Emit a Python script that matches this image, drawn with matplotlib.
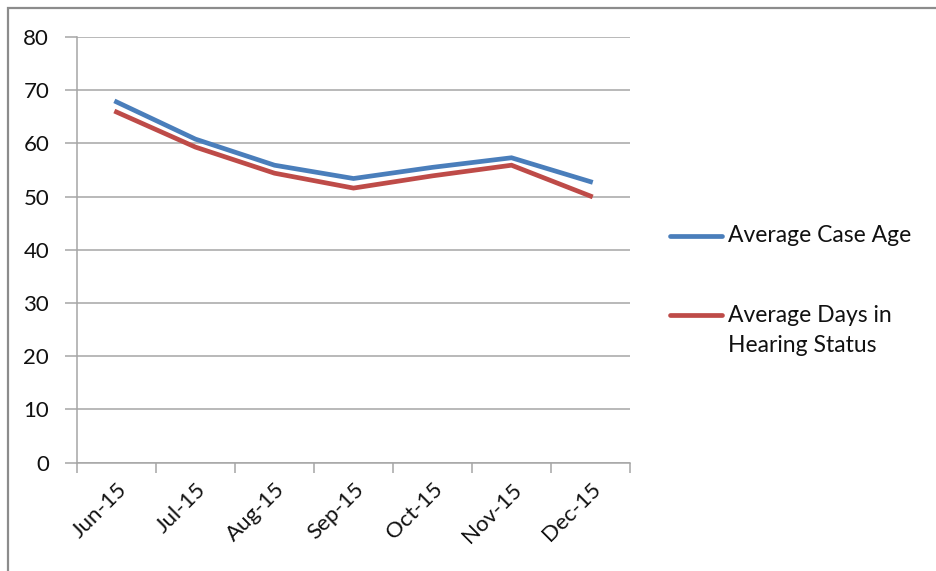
import matplotlib
matplotlib.use('Agg')
import matplotlib.pyplot as plt
from matplotlib.lines import Line2D
from matplotlib.patches import Rectangle

months = ['Jun-15', 'Jul-15', 'Aug-15', 'Sep-15', 'Oct-15', 'Nov-15', 'Dec-15']
case_age = [67.8, 60.8, 55.9, 53.4, 55.5, 57.3, 52.8]
hearing_days = [65.9, 59.3, 54.4, 51.6, 53.9, 55.9, 50.1]

blue = '#4A7EBB'
red = '#BE4B48'
grid_gray = '#A6A6A6'

plt.rcParams['font.family'] = ['Lato', 'DejaVu Sans']

fig = plt.figure(figsize=(9.36, 5.71), dpi=100)
W, H = 936, 571
ax = fig.add_axes([77 / W, 1 - 462.6 / H, (630 - 77) / W, (462.6 - 37) / H])

x = list(range(len(months)))
ax.plot(x, case_age, color=blue, lw=3.4, solid_joinstyle='miter')
ax.plot(x, hearing_days, color=red, lw=3.4, solid_joinstyle='miter')

ax.set_xlim(-0.5, len(months) - 0.5)
ax.set_ylim(0, 80)
ax.set_yticks(range(0, 81, 10))
ax.yaxis.grid(True, color=grid_gray, lw=1.1)
ax.set_axisbelow(True)

# category labels sit between the boundary tick marks
ax.set_xticks(x)
ax.set_xticklabels(months, rotation=45, ha='right', rotation_mode='anchor')
ax.set_xticks([i - 0.5 for i in range(len(months) + 1)], minor=True)
ax.tick_params(axis='x', which='major', length=0, pad=12, labelsize=16, colors='#111111')
ax.tick_params(axis='x', which='minor', length=7, width=1.1, color=grid_gray, direction='out')
ax.tick_params(axis='y', length=9, width=1.1, color=grid_gray, pad=11, labelsize=16, labelcolor='#111111')

for side in ['top', 'right']:
    ax.spines[side].set_visible(False)
for side in ['left', 'bottom']:
    ax.spines[side].set_color(grid_gray)
    ax.spines[side].set_linewidth(1.1)

# legend drawn by hand so the handle lines up with the first text line
entries = [(blue, ['Average Case Age'], 236), (red, ['Average Days in', 'Hearing Status'], 315)]
for color, lines, ypx in entries:
    fig.add_artist(Line2D([670 / W, 722 / W], [1 - ypx / H, 1 - ypx / H],
                          color=color, lw=3.4, solid_capstyle='round'))
    for k, line in enumerate(lines):
        fig.text(728 / W, 1 - (ypx + 31 * k) / H, line, fontsize=16.5,
                 color='#111111', va='center', ha='left')

# outer chart frame
fig.add_artist(Rectangle((8 / W, -0.05), 1.05, 1 - 8 / H + 0.05, transform=fig.transFigure,
                         fill=False, edgecolor='#8C8C8C', lw=1.6))

fig.savefig('out.png', dpi=100)
